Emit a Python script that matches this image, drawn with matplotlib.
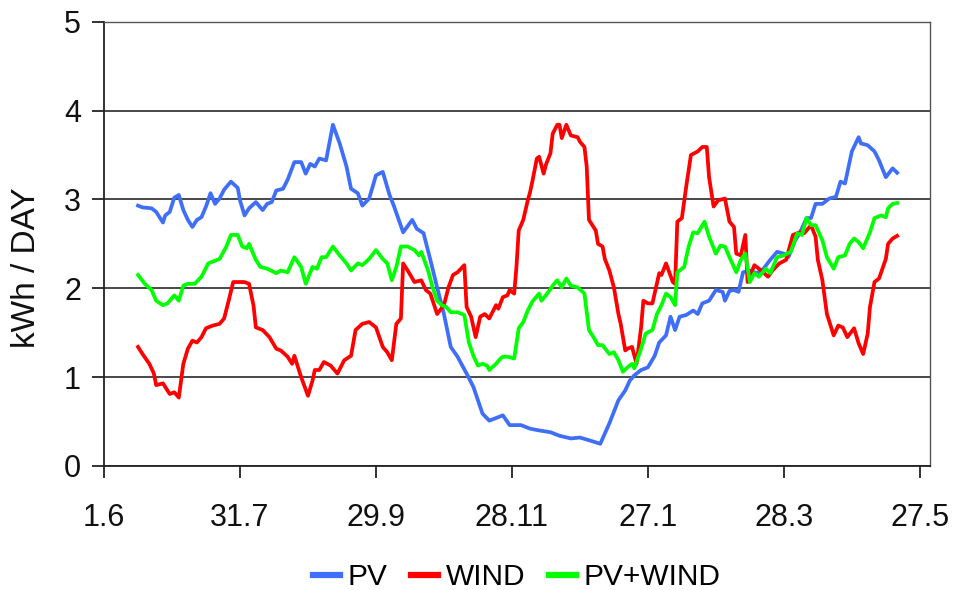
import matplotlib
matplotlib.use("Agg")
import matplotlib.pyplot as plt

plt.rcParams['font.family'] = ['Liberation Sans', 'DejaVu Sans']

# 30-day running means, x = days since 1 June
pv_days = [15, 17, 21, 23, 26, 27, 29, 31, 33, 35, 37, 39, 41, 43, 45, 47, 49, 51, 53, 56,
           59, 60, 62, 64, 67, 70, 72, 74, 76, 79, 81, 84, 87, 89, 91, 93, 95, 98, 101, 104,
           107, 109, 112, 114, 117, 120, 123, 126, 128, 132, 136, 138, 141, 144, 147, 150, 153, 156, 160, 163,
           167, 170, 176, 179, 184, 188, 192, 197, 201, 206, 210, 214, 219, 223, 227, 230, 232, 234, 237, 240,
           243, 245, 248, 250, 252, 254, 257, 260, 262, 264, 267, 268, 270, 273, 274, 276, 278, 280, 282, 285,
           288, 291, 294, 297, 300, 302, 305, 307, 310, 312, 314, 317, 320, 323, 325, 327, 330, 333, 334, 337,
           340, 342, 345, 348, 350]
pv_kwh = [2.93, 2.91, 2.90, 2.86, 2.74, 2.82, 2.86, 3.02, 3.05, 2.88, 2.77, 2.69, 2.77, 2.80, 2.92, 3.07, 2.95, 3.01, 3.11, 3.20,
          3.13, 2.99, 2.82, 2.90, 2.97, 2.88, 2.95, 2.97, 3.10, 3.12, 3.22, 3.42, 3.42, 3.29, 3.40, 3.37, 3.46, 3.44, 3.84, 3.63,
          3.37, 3.12, 3.07, 2.93, 3.01, 3.27, 3.31, 3.05, 2.92, 2.63, 2.77, 2.67, 2.62, 2.32, 2.01, 1.71, 1.34, 1.23, 1.04, 0.89,
          0.59, 0.51, 0.57, 0.46, 0.46, 0.42, 0.40, 0.38, 0.34, 0.31, 0.32, 0.29, 0.25, 0.48, 0.74, 0.85, 0.96, 1.02, 1.08, 1.11,
          1.24, 1.39, 1.47, 1.68, 1.53, 1.68, 1.70, 1.75, 1.71, 1.83, 1.86, 1.90, 1.98, 1.96, 1.86, 1.97, 1.98, 1.96, 2.18, 2.20,
          2.17, 2.22, 2.32, 2.41, 2.39, 2.35, 2.54, 2.62, 2.79, 2.79, 2.95, 2.95, 3.01, 3.03, 3.20, 3.18, 3.54, 3.70, 3.63, 3.61,
          3.54, 3.44, 3.25, 3.35, 3.30]

wind_days = [15, 17, 20, 22, 23, 26, 28, 29, 31, 33, 35, 37, 39, 41, 43, 45, 48, 51, 53, 55,
             57, 59, 62, 64, 66, 67, 70, 73, 76, 78, 81, 83, 84, 87, 90, 92, 93, 95, 97, 100,
             103, 106, 109, 111, 114, 117, 120, 123, 125, 127, 129, 131, 132, 134, 137, 140, 142, 144, 147, 150,
             152, 154, 156, 159, 160, 162, 164, 166, 168, 170, 173, 174, 176, 178, 179, 181, 182, 183, 185, 187,
             188, 189, 191, 192, 194, 195, 197, 198, 200, 201, 202, 204, 206, 209, 210, 212, 213, 214, 217, 218,
             220, 221, 223, 225, 227, 228, 230, 231, 233, 235, 237, 238, 240, 242, 245, 246, 248, 251, 252, 253,
             255, 257, 259, 262, 264, 266, 267, 269, 271, 274, 276, 278, 279, 281, 283, 284, 287, 290, 293, 295,
             298, 301, 304, 307, 309, 312, 314, 315, 317, 319, 322, 324, 326, 328, 331, 333, 335, 337, 338, 340,
             342, 345, 346, 348, 350]
wind_kwh = [1.34, 1.26, 1.15, 1.04, 0.91, 0.93, 0.85, 0.81, 0.83, 0.77, 1.15, 1.32, 1.41, 1.39, 1.45, 1.55, 1.58, 1.60, 1.66, 1.86,
            2.07, 2.07, 2.07, 2.05, 1.80, 1.56, 1.53, 1.45, 1.32, 1.30, 1.23, 1.15, 1.24, 1.00, 0.79, 0.96, 1.08, 1.08, 1.17, 1.13,
            1.04, 1.19, 1.24, 1.53, 1.60, 1.62, 1.56, 1.34, 1.28, 1.19, 1.60, 1.66, 2.28, 2.20, 2.07, 2.09, 1.98, 1.94, 1.71, 1.81,
            2.01, 2.15, 2.18, 2.26, 1.79, 1.68, 1.45, 1.68, 1.71, 1.66, 1.81, 1.77, 1.90, 1.92, 1.98, 1.94, 2.24, 2.65, 2.77, 2.99,
            3.08, 3.20, 3.46, 3.48, 3.29, 3.39, 3.52, 3.74, 3.84, 3.84, 3.69, 3.84, 3.72, 3.70, 3.65, 3.59, 3.37, 2.77, 2.65, 2.50,
            2.47, 2.33, 2.20, 2.01, 1.71, 1.60, 1.30, 1.32, 1.34, 1.15, 1.56, 1.86, 1.83, 1.83, 2.17, 2.15, 2.28, 2.07, 2.05, 2.75,
            2.79, 3.16, 3.50, 3.54, 3.59, 3.59, 3.25, 2.92, 2.99, 3.01, 2.75, 2.69, 2.39, 2.37, 2.60, 2.07, 2.26, 2.20, 2.13, 2.20,
            2.28, 2.32, 2.60, 2.63, 2.62, 2.71, 2.58, 2.32, 2.09, 1.71, 1.47, 1.58, 1.56, 1.45, 1.55, 1.38, 1.26, 1.49, 1.79, 2.07,
            2.11, 2.33, 2.50, 2.56, 2.59]

mix_days = [15, 18, 21, 23, 26, 28, 31, 33, 35, 37, 40, 43, 46, 48, 51, 54, 56, 59, 61, 63,
            64, 67, 69, 72, 76, 78, 81, 84, 87, 89, 92, 94, 96, 98, 101, 104, 107, 109, 112, 114,
            117, 120, 123, 125, 127, 129, 131, 134, 137, 139, 140, 143, 145, 147, 149, 151, 153, 156, 159, 161,
            163, 165, 167, 169, 170, 173, 175, 176, 178, 181, 183, 185, 187, 189, 192, 193, 195, 198, 200, 202,
            204, 206, 209, 212, 214, 216, 218, 220, 223, 225, 227, 229, 231, 233, 234, 237, 239, 242, 244, 246,
            248, 250, 252, 253, 256, 258, 260, 262, 265, 267, 270, 272, 274, 276, 279, 281, 283, 285, 287, 289,
            292, 294, 297, 300, 303, 306, 308, 310, 312, 314, 317, 319, 322, 324, 327, 329, 331, 333, 335, 338,
            340, 343, 345, 346, 348, 350]
mix_kwh = [2.15, 2.05, 1.98, 1.86, 1.81, 1.83, 1.92, 1.86, 2.03, 2.05, 2.05, 2.13, 2.28, 2.30, 2.33, 2.47, 2.60, 2.60, 2.47, 2.45,
           2.50, 2.32, 2.24, 2.22, 2.17, 2.20, 2.18, 2.35, 2.24, 2.05, 2.24, 2.22, 2.35, 2.35, 2.47, 2.37, 2.28, 2.20, 2.28, 2.26,
           2.33, 2.43, 2.33, 2.28, 2.09, 2.24, 2.47, 2.47, 2.43, 2.37, 2.41, 2.20, 2.01, 1.86, 1.81, 1.79, 1.73, 1.73, 1.70, 1.39,
           1.24, 1.13, 1.15, 1.13, 1.08, 1.15, 1.21, 1.23, 1.23, 1.21, 1.55, 1.62, 1.75, 1.85, 1.94, 1.86, 1.92, 2.03, 2.09, 2.01,
           2.11, 2.03, 2.01, 1.94, 1.53, 1.45, 1.36, 1.36, 1.26, 1.28, 1.19, 1.06, 1.11, 1.15, 1.10, 1.32, 1.49, 1.53, 1.71, 1.81,
           1.94, 1.90, 1.81, 2.18, 2.24, 2.47, 2.63, 2.62, 2.75, 2.58, 2.39, 2.48, 2.47, 2.35, 2.18, 2.32, 2.39, 2.07, 2.17, 2.13,
           2.22, 2.17, 2.35, 2.37, 2.41, 2.62, 2.60, 2.79, 2.71, 2.71, 2.54, 2.35, 2.22, 2.35, 2.37, 2.50, 2.56, 2.52, 2.45, 2.63,
           2.79, 2.82, 2.80, 2.90, 2.95, 2.96]

tick_days = [0, 60, 120, 180, 240, 300, 360]
tick_labels = ['1.6', '31.7', '29.9', '28.11', '27.1', '28.3', '27.5']

fig, ax = plt.subplots(figsize=(9.57, 5.90), dpi=100)
fig.subplots_adjust(left=0.1087, right=0.9718, top=0.9632, bottom=0.2102)

# Series lines
ax.plot(pv_days, pv_kwh, color='#3F6EF8', lw=2.7, label='PV')
ax.plot(wind_days, wind_kwh, color='#FF0000', lw=2.7, label='WIND')
ax.plot(mix_days, mix_kwh, color='#00FF00', lw=2.7, label='PV+WIND')

# Axes, grid and ticks
ax.set_xlim(0, 364.5)
ax.set_ylim(0, 5)
ax.set_yticks(range(0, 6))
ax.set_xticks(tick_days)
ax.set_xticklabels(tick_labels)
ax.yaxis.grid(True, color='#3a3a3a', lw=1.3)
ax.set_axisbelow(True)
ax.tick_params(axis='both', direction='out', length=8.5, width=1.2, labelsize=22, colors='#111111')
ax.tick_params(axis='x', pad=18)
ax.tick_params(axis='y', pad=8)
for side in ['left', 'bottom']:
    ax.spines[side].set_color('#222222')
    ax.spines[side].set_linewidth(1.3)
for side in ['top', 'right']:
    ax.spines[side].set_color('#555555')
    ax.spines[side].set_linewidth(1.0)

fig.text(27 / 957, 1 - 268 / 590, 'kWh / DAY', rotation=90, ha='center', va='center',
         fontsize=24, color='#111111')

# Legend along the bottom
fig.legend(loc='center', bbox_to_anchor=(517 / 957, 1 - 577 / 590), ncol=3, frameon=False,
           fontsize=21.5, handlelength=0.9, handletextpad=0.25, columnspacing=0.8)
for line in fig.legends[0].get_lines():
    line.set_linewidth(4.5)

fig.savefig('out.png', dpi=100)
plt.close(fig)
